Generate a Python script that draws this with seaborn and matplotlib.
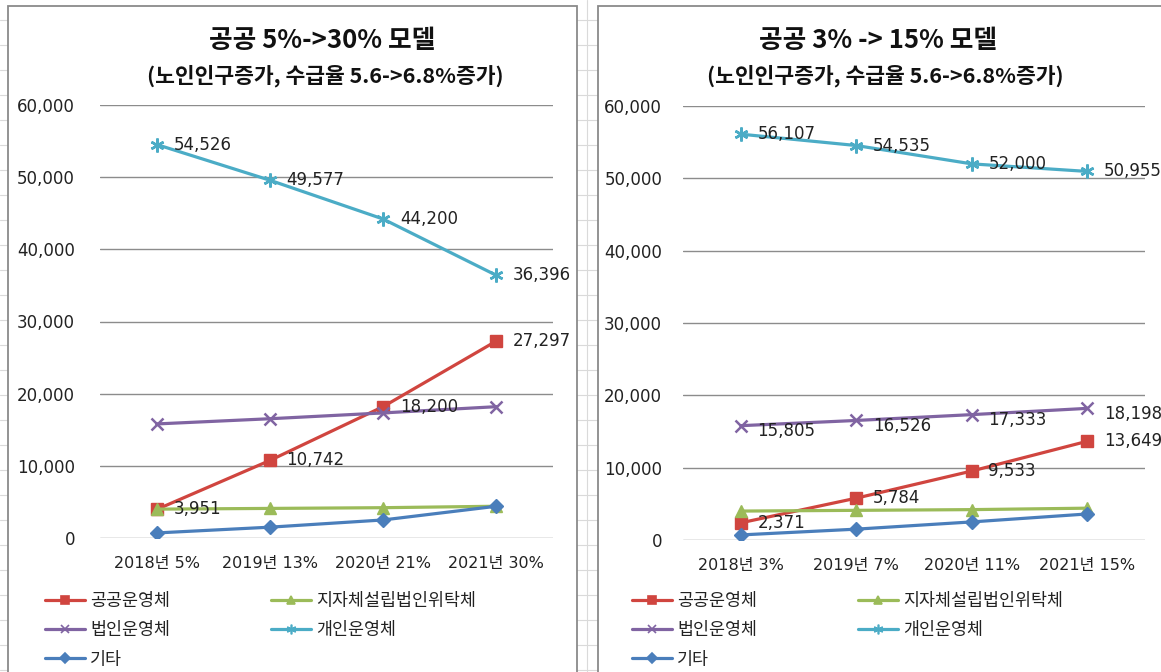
import matplotlib
matplotlib.use("Agg")
import matplotlib.pyplot as plt
import matplotlib.patches as mpatches
from matplotlib.lines import Line2D
from matplotlib.ticker import FuncFormatter
import seaborn as sns
import numpy as np

sns.set_theme(style="white")
plt.rcParams['font.family'] = ['DejaVu Sans', 'Noto Sans CJK KR']

# ---------------- data ----------------
series_names = ["공공운영체", "지자체설립법인위탁체", "법인운영체", "개인운영체", "기타"]

left_title = "공공 5%->30% 모델"
right_title = "공공 3% -> 15% 모델"
subtitle = "(노인인구증가, 수급율 5.6->6.8%증가)"

left_categories = ["2018년 5%", "2019년 13%", "2020년 21%", "2021년 30%"]
right_categories = ["2018년 3%", "2019년 7%", "2020년 11%", "2021년 15%"]

left_public = [3951, 10742, 18200, 27297]
left_local = [4000, 4100, 4200, 4400]
left_corp = [15805, 16526, 17333, 18198]
left_private = [54526, 49577, 44200, 36396]
left_other = [700, 1500, 2500, 4400]

right_public = [2371, 5784, 9533, 13649]
right_local = [4000, 4100, 4200, 4400]
right_corp = [15805, 16526, 17333, 18198]
right_private = [56107, 54535, 52000, 50955]
right_other = [700, 1500, 2500, 3600]

y_ticks = [0, 10000, 20000, 30000, 40000, 50000, 60000]

# which series carry data labels in each panel
left_labeled = ["공공운영체", "개인운영체"]
right_labeled = ["공공운영체", "법인운영체", "개인운영체"]

# ---------------- styles ----------------
colors = {"공공운영체": "#D0453F", "지자체설립법인위탁체": "#9BBB59",
          "법인운영체": "#8064A2", "개인운영체": "#4BACC6", "기타": "#4A7EBB"}
markers = {"공공운영체": "s", "지자체설립법인위탁체": "^", "법인운영체": "x",
           "개인운영체": (6, 2, 0), "기타": "D"}
msizes = {"공공운영체": 8.5, "지자체설립법인위탁체": 8.5, "법인운영체": 9,
          "개인운영체": 10, "기타": 7}

W, H = 1161, 672
fig = plt.figure(figsize=(W / 100, H / 100), dpi=100)
fig.patch.set_facecolor("white")

# Excel sheet background grid
bg = fig.add_axes([0, 0, 1, 1], zorder=-10)
bg.set_xlim(0, W)
bg.set_ylim(H, 0)
bg.axis("off")
for yy in range(20, H, 25):
    bg.plot([0, W], [yy, yy], color="#DADADA", lw=0.8, zorder=1)
for xx in [587]:
    bg.plot([xx, xx], [0, H], color="#DADADA", lw=0.8, zorder=1)
for (x0, x1) in [(8, 577), (598, 1175)]:
    bg.add_patch(mpatches.Rectangle((x0, 6), x1 - x0, H + 10, facecolor="white",
                                    edgecolor="#8A8A8A", lw=1.3, zorder=5))


def px_axes(x0, x1, ytop, ybot):
    return [x0 / W, 1 - ybot / H, (x1 - x0) / W, (ybot - ytop) / H]


def draw_panel(rect, cats, data, labeled, ypad):
    ax = fig.add_axes(rect)
    ax.set_facecolor("none")
    xs = np.arange(len(cats))
    for name in series_names:
        vals = data[name]
        sns.lineplot(x=xs, y=vals, ax=ax, color=colors[name], marker=markers[name],
                     markersize=msizes[name], linewidth=2.3,
                     markeredgecolor=colors[name],
                     markeredgewidth=1.8 if name in ("법인운영체", "개인운영체") else 1.0,
                     label=name, zorder=3)
        if name in labeled:
            for xi, v in zip(xs, vals):
                dy = -4 if name == "법인운영체" else 0
                ax.annotate(f"{v:,}", (xi, v), xytext=(12, dy), textcoords="offset points",
                            va="center", ha="left", fontsize=12, color="#222222", zorder=4)
    ax.set_xlim(-0.5, len(cats) - 0.5)
    ax.set_ylim(0, 60000)
    ax.set_yticks(y_ticks)
    ax.yaxis.set_major_formatter(FuncFormatter(lambda v, p: f"{int(v):,}"))
    ax.set_xticks(xs)
    ax.set_xticklabels(cats)
    ax.tick_params(axis="both", length=0, colors="#222222")
    ax.tick_params(axis="y", pad=ypad, labelsize=12)
    ax.tick_params(axis="x", pad=13, labelsize=11.5)
    ax.grid(axis="y", color="#8C8C8C", lw=1.0)
    ax.grid(axis="x", visible=False)
    for s in ax.spines.values():
        s.set_visible(False)
    ax.set_xlabel("")
    ax.set_ylabel("")
    ax.get_legend().remove()
    return ax


left_data = {"공공운영체": left_public, "지자체설립법인위탁체": left_local,
             "법인운영체": left_corp, "개인운영체": left_private, "기타": left_other}
right_data = {"공공운영체": right_public, "지자체설립법인위탁체": right_local,
              "법인운영체": right_corp, "개인운영체": right_private, "기타": right_other}

axL = draw_panel(px_axes(100, 553, 105, 538), left_categories, left_data, left_labeled, 18)
axR = draw_panel(px_axes(683, 1145, 106, 540), right_categories, right_data, right_labeled, 15)

kfont = ['Noto Sans CJK KR', 'DejaVu Sans']
for cx, title in [(322, left_title), (878, right_title)]:
    fig.text(cx / W, 1 - 41 / H, title, ha="center", va="center", fontsize=18.5,
             fontweight="bold", family=kfont, color="#111111")
for cx in [325, 885]:
    fig.text(cx / W, 1 - 76 / H, subtitle, ha="center", va="center", fontsize=15.5,
             fontweight="bold", family=kfont, color="#111111")

order = ["공공운영체", "법인운영체", "기타", "지자체설립법인위탁체", "개인운영체"]
for x0 in [45, 632]:
    hs = []
    for n in order:
        hs.append(Line2D([], [], color=colors[n], marker=markers[n], lw=2.3,
                         markersize=msizes[n] * 0.7, markeredgecolor=colors[n],
                         markeredgewidth=1.2))
    fig.legend(hs, order, loc="upper left", bbox_to_anchor=(x0 / W, 1 - 592 / H),
               ncol=2, frameon=False, handlelength=2.3, handletextpad=0.3,
               columnspacing=5.8, labelspacing=0.65, borderpad=0, borderaxespad=0,
               prop={"family": kfont, "size": 12.5}, labelcolor="#222222")

fig.savefig("out.png", dpi=100)
